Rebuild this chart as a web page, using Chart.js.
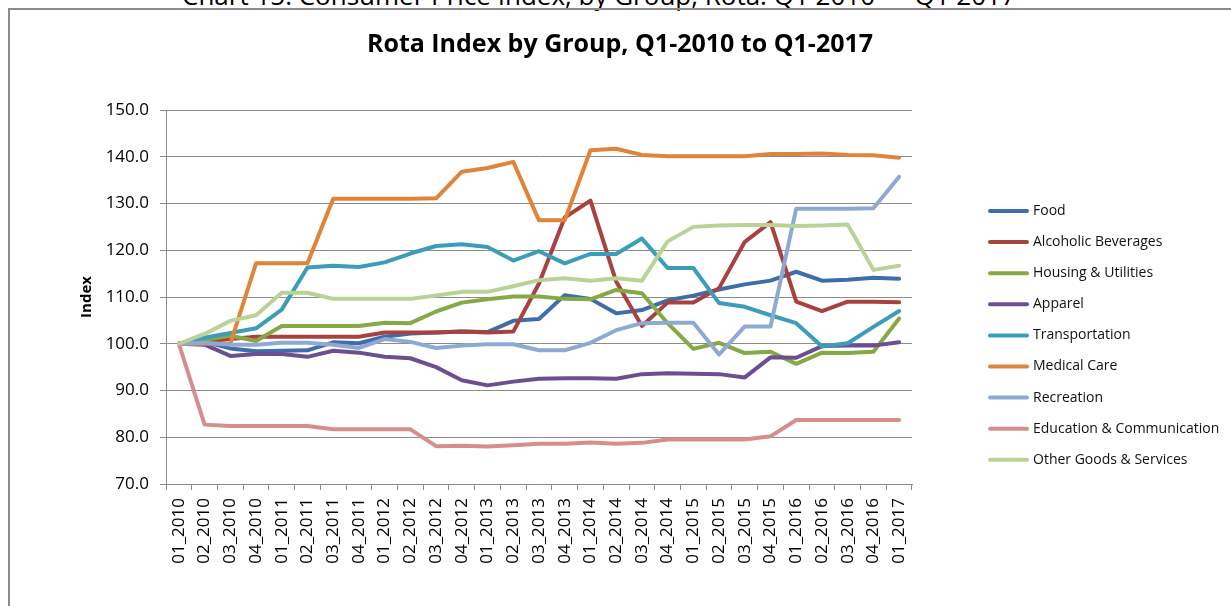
<!DOCTYPE html>
<html>
<head>
<meta charset="utf-8">
<script src="https://cdn.jsdelivr.net/npm/chart.js@4.4.1/dist/chart.umd.min.js"></script>
<style>
  html, body { margin: 0; padding: 0; background: #fff; overflow: hidden; width: 1231px; height: 606px; }
  #caption { position: absolute; left: 182px; top: -18px; font-family: "Open Sans", sans-serif; font-size: 26px; line-height: 26px; color: #000; white-space: nowrap; }
  #frame { position: absolute; left: 8px; top: 8px; width: 1300px; height: 700px; border: 2px solid #8c8c8c; box-sizing: border-box; }
  #c { position: absolute; left: 0; top: 0; }
</style>
</head>
<body>
<div id="caption">Chart 15: Consumer Price Index, by Group, Rota: Q1 2010 — Q1 2017</div>
<div id="frame"></div>
<canvas id="c" width="1231" height="606"></canvas>
<script>
const TITLE = 'Rota Index by Group, Q1-2010 to Q1-2017';
const Y_TITLE = 'Index';

const categories = ['01_2010','02_2010','03_2010','04_2010','01_2011','02_2011','03_2011','04_2011',
  '01_2012','02_2012','03_2012','04_2012','01_2013','02_2013','03_2013','04_2013',
  '01_2014','02_2014','03_2014','04_2014','01_2015','02_2015','03_2015','04_2015',
  '01_2016','02_2016','03_2016','04_2016','01_2017'];

const seriesNames = ['Food','Alcoholic Beverages','Housing & Utilities','Apparel','Transportation',
  'Medical Care','Recreation','Education & Communication','Other Goods & Services'];

const food = [100, 100.4, 99.0, 98.4, 98.5, 98.6, 100.3, 100.1, 101.5, 102.2, 102.4, 102.6, 102.5, 104.9, 105.3, 110.4, 109.6, 106.5, 107.2, 109.3, 110.3, 111.6, 112.7, 113.5, 115.4, 113.5, 113.7, 114.1, 113.9];
const alcoholicBeverages = [100, 100.5, 101.0, 101.5, 101.5, 101.5, 101.5, 101.5, 102.4, 102.4, 102.4, 102.6, 102.4, 102.6, 112.9, 127.0, 130.6, 113.3, 103.8, 108.8, 108.8, 111.9, 121.8, 126.0, 109.0, 107.0, 109.0, 109.0, 108.9];
const housingUtilities = [100, 100.8, 101.7, 100.6, 103.8, 103.8, 103.8, 103.8, 104.5, 104.4, 106.9, 108.8, 109.5, 110.1, 110.1, 109.6, 109.5, 111.5, 110.8, 104.4, 98.9, 100.2, 98.0, 98.3, 95.7, 98.1, 98.0, 98.3, 105.4];
const apparel = [100, 99.8, 97.4, 97.8, 97.8, 97.2, 98.5, 98.1, 97.2, 96.9, 95.0, 92.2, 91.1, 91.9, 92.5, 92.6, 92.6, 92.5, 93.5, 93.7, 93.6, 93.5, 92.8, 97.1, 97.0, 99.5, 99.6, 99.6, 100.3];
const transportation = [100, 101.3, 102.3, 103.3, 107.3, 116.3, 116.7, 116.4, 117.4, 119.3, 120.9, 121.3, 120.7, 117.8, 119.8, 117.2, 119.2, 119.2, 122.5, 116.2, 116.2, 108.7, 107.9, 106.1, 104.4, 99.4, 100.1, 103.6, 107.0];
const medicalCare = [100, 100, 100, 117.2, 117.2, 117.2, 131.0, 131.0, 131.0, 131.0, 131.1, 136.8, 137.6, 138.9, 126.4, 126.4, 141.4, 141.7, 140.4, 140.1, 140.1, 140.1, 140.1, 140.6, 140.6, 140.7, 140.4, 140.3, 139.8];
const recreation = [100, 100.2, 99.8, 99.8, 100.2, 100.2, 99.8, 99.1, 101.0, 100.4, 99.1, 99.6, 99.9, 99.9, 98.6, 98.6, 100.2, 102.9, 104.4, 104.5, 104.5, 97.7, 103.7, 103.7, 128.9, 128.9, 128.9, 129.0, 135.7];
const educationCommunication = [100, 82.7, 82.4, 82.4, 82.4, 82.4, 81.7, 81.7, 81.7, 81.7, 78.1, 78.2, 78.0, 78.3, 78.6, 78.6, 78.9, 78.6, 78.8, 79.5, 79.5, 79.5, 79.5, 80.2, 83.7, 83.7, 83.7, 83.7, 83.7];
const otherGoodsServices = [100, 102.1, 104.9, 106.1, 110.9, 110.9, 109.6, 109.6, 109.6, 109.6, 110.3, 111.1, 111.1, 112.3, 113.6, 114.0, 113.5, 114.0, 113.5, 121.9, 125.0, 125.3, 125.4, 125.4, 125.2, 125.3, 125.5, 115.8, 116.7];

const yTickMin = 70, yTickMax = 150, yTickStep = 10;

const seriesValues = [food, alcoholicBeverages, housingUtilities, apparel, transportation,
  medicalCare, recreation, educationCommunication, otherGoodsServices];
const seriesColors = ['#3D6EA9','#A8423F','#86A845','#6C4F90','#3C9DB8','#E0843A','#8FAAD2','#D68E8D','#B9D295'];

const datasets = seriesNames.map((name, i) => ({
  label: name,
  data: seriesValues[i],
  borderColor: seriesColors[i],
  backgroundColor: seriesColors[i],
  borderWidth: 4,
  pointRadius: 0,
  tension: 0,
  fill: false,
  borderCapStyle: 'round',
  borderJoinStyle: 'round',
  order: seriesNames.length - i
}));

const chartTitle = {
  id: 'chartTitle',
  afterDraw(chart) {
    const ctx = chart.ctx;
    ctx.save();
    ctx.fillStyle = '#000';
    ctx.font = 'bold 25px "Open Sans"';
    ctx.textAlign = 'center';
    ctx.textBaseline = 'middle';
    ctx.fillText(TITLE, 620, 45);
    ctx.restore();
  }
};

const sideLegend = {
  id: 'sideLegend',
  afterDraw(chart) {
    const ctx = chart.ctx;
    chart.data.datasets.forEach((ds, i) => {
      const y = 211 + i * 31.1;
      ctx.save();
      ctx.strokeStyle = ds.borderColor;
      ctx.lineWidth = 4;
      ctx.lineCap = 'round';
      ctx.beginPath();
      ctx.moveTo(990, y);
      ctx.lineTo(1027, y);
      ctx.stroke();
      ctx.fillStyle = '#111';
      ctx.font = '14px "Open Sans"';
      ctx.textBaseline = 'middle';
      ctx.textAlign = 'left';
      ctx.fillText(ds.label, 1033, y);
      ctx.restore();
    });
  }
};

new Chart(document.getElementById('c'), {
  type: 'line',
  data: { labels: categories, datasets },
  plugins: [chartTitle, sideLegend],
  options: {
    responsive: false,
    animation: false,
    events: [],
    layout: { padding: { left: 74, right: 319, top: 110, bottom: 0 } },
    plugins: {
      legend: { display: false },
      tooltip: { enabled: false },
      title: { display: false }
    },
    scales: {
      x: {
        type: 'category',
        offset: true,
        grid: { offset: true, drawOnChartArea: false, drawTicks: true, tickLength: 6, color: '#8c8c8c', lineWidth: 1 },
        border: { color: '#8c8c8c', width: 1 },
        ticks: { autoSkip: false, maxRotation: 90, minRotation: 90, padding: 8, color: '#000',
                 font: { family: 'Open Sans', size: 17 } },
        afterFit(scale) { scale.height = 122; }
      },
      y: {
        min: yTickMin,
        max: yTickMax,
        grid: { color: '#8c8c8c', lineWidth: 1, tickLength: 6 },
        border: { color: '#8c8c8c', width: 1 },
        ticks: { stepSize: yTickStep, padding: 11, color: '#000',
                 font: { family: 'Open Sans', size: 17 },
                 callback: v => Number(v).toFixed(1) },
        title: { display: true, text: Y_TITLE, color: '#000',
                 font: { family: 'Open Sans', size: 15, weight: 'bold' } },
        afterFit(scale) { scale.width = 92; }
      }
    }
  }
});
</script>
</body>
</html>
